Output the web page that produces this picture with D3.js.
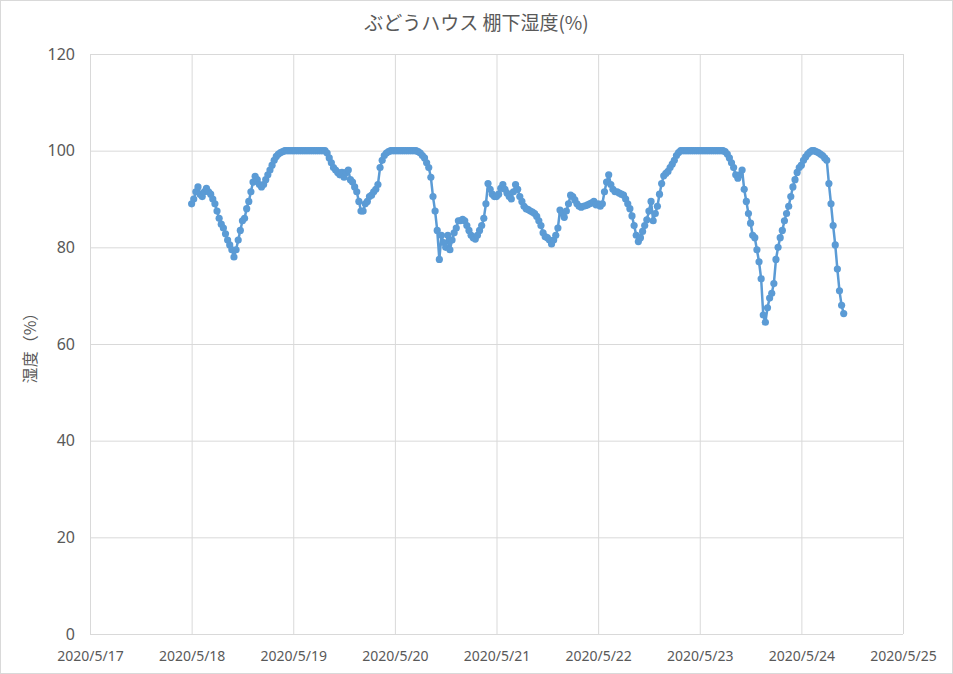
<!DOCTYPE html>
<html><head><meta charset="utf-8">
<script src="https://cdn.jsdelivr.net/npm/d3@7"></script>
<style>
html,body{margin:0;padding:0;background:#fff;}
svg{display:block;font-family:"Noto Sans CJK JP","Noto Sans",sans-serif;}
</style></head>
<body><svg id="c" width="953" height="674"></svg>
<script>
// Humidity readings every 30 minutes, starting at 00:00 of each day
const startTime = "2020-05-18T00:00:00";
const stepMinutes = 30;
const hum0518 = [89,90,91.5,92.5,91,90.5,91.5,92.2,91.5,91,90,89,87.5,86,84.8,84,82.8,81.5,80.5,79.5,78,79.5,81.5,83.5,85.5,86,88,89.5,91.5,93.5,94.7,94,93,92.5,93,94,95,96,97,98,98.8,99.3,99.6,99.8,100,100,100,100];
const hum0519 = [100,100,100,100,100,100,100,100,100,100,100,100,100,100,100,100,99.5,98.5,97.5,96.5,96,95.5,95,95.5,94.5,95.5,96,94,93.5,92.5,91.5,89.5,87.5,87.5,89,89.5,90.5,90.8,91.5,92,93,96.5,98,99,99.5,99.8,100,100];
const hum0520 = [100,100,100,100,100,100,100,100,100,100,100,99.8,99.5,99,98.5,97.5,96.5,94.5,90.5,87.5,83.5,77.5,82.5,81,80,82.5,79.5,81.5,83,84,85.5,85.5,85.8,85.5,84.5,83.5,82.5,82,81.7,82.5,83.5,84.5,86,89,93.2,92,91,90.5];
const hum0521 = [90.5,91,92.2,93,92,91.2,90.5,90,91.5,93,92,90.5,89.5,88.5,88,87.8,87.5,87.3,87,86.4,85.5,84.5,83,82.2,82,81.5,80.7,81.5,82.5,84,87.7,87,86.2,87.5,89,90.8,90.5,89.8,89,88.5,88.3,88.5,88.6,88.8,89,89.2,89.5,88.8];
const hum0522 = [89,88.5,89,91.5,93.5,95,93,92,91.5,91.5,91.2,91,90.8,90,89,88,86.5,84.5,82.5,81.2,82,83.3,84.5,85.7,87.5,89.5,85.5,87,88.5,91,93.2,94.8,95.3,95.7,96.5,97.2,98,99,99.6,100,100,100,100,100,100,100,100,100];
const hum0523 = [100,100,100,100,100,100,100,100,100,100,100,100,99.8,99.3,98.5,97.5,96.5,95,94.3,95,96,92,89.5,87,85,82.5,82,79.5,77,73.5,66,64.5,67.5,69.5,70.5,72.5,77.5,80,82,83.5,85.5,87,88.5,90.5,92.5,94,95.5,96.5];
const hum0524 = [97,98,98.7,99.3,99.7,100,100,99.8,99.6,99.3,99,98.5,98,93.2,89,84.5,80.5,75.5,71,68,66.3];

const yTicks = [0,20,40,60,80,100,120];
const xTickDates = ["2020-05-17","2020-05-18","2020-05-19","2020-05-20","2020-05-21","2020-05-22","2020-05-23","2020-05-24","2020-05-25"];
const titleText = "ぶどうハウス  棚下湿度(%)";
const yLabelText = "湿度（%）";

const values = [].concat(hum0518,hum0519,hum0520,hum0521,hum0522,hum0523,hum0524);
const t0 = new Date(startTime).getTime();
const data = values.map((v,i)=>({t:new Date(t0 + i*stepMinutes*60000), v}));

const svg = d3.select("#c");
const W=953,H=674;
const L=90,R=903,T=54,B=634;
const color="#5b9bd5", textColor="#595959", gridColor="#d9d9d9";

svg.append("rect").attr("x",0.5).attr("y",0.5).attr("width",W-1).attr("height",H-1)
  .attr("fill","#fff").attr("stroke","#d9d9d9");

const parse = s=>new Date(s+"T00:00:00");
const x = d3.scaleTime().domain([parse(xTickDates[0]), parse(xTickDates[xTickDates.length-1])]).range([L,R]);
const y = d3.scaleLinear().domain([0,120]).range([B,T]);

const yAxis = d3.axisLeft(y).tickValues(yTicks).tickSize(-(R-L)).tickPadding(15).tickFormat(d3.format("d"));
const gy = svg.append("g").attr("transform",`translate(${L},0)`).call(yAxis);
gy.select(".domain").remove();
gy.selectAll(".tick line").attr("stroke",gridColor).attr("stroke-width",1);
gy.selectAll(".tick text").attr("fill",textColor).style("font-size","16px").style("font-family","'Noto Sans','Noto Sans CJK JP',sans-serif");

const xAxis = d3.axisBottom(x).tickValues(xTickDates.map(parse)).tickSize(-(B-T)).tickPadding(17).tickFormat(d3.timeFormat("%Y/%-m/%-d"));
const gx = svg.append("g").attr("transform",`translate(0,${B})`).call(xAxis);
gx.select(".domain").remove();
gx.selectAll(".tick line").attr("stroke",gridColor).attr("stroke-width",1);
gx.selectAll(".tick text").attr("fill",textColor).style("font-size","14px").style("font-family","'Noto Sans','Noto Sans CJK JP',sans-serif");

const line = d3.line().x(d=>x(d.t)).y(d=>y(d.v));
svg.append("path").datum(data).attr("d",line).attr("fill","none")
  .attr("stroke",color).attr("stroke-width",2.5).attr("stroke-linejoin","round");
svg.append("g").selectAll("circle").data(data).join("circle")
  .attr("cx",d=>x(d.t)).attr("cy",d=>y(d.v)).attr("r",3.6).attr("fill",color);

svg.append("text").attr("x",W/2).attr("y",30).attr("text-anchor","middle")
  .attr("fill",textColor).style("font-size","19px").text(titleText);
svg.append("text").attr("transform",`translate(36,${(T+B)/2}) rotate(-90)`).attr("text-anchor","middle")
  .attr("fill",textColor).style("font-size","16px").text(yLabelText);
</script></body></html>
